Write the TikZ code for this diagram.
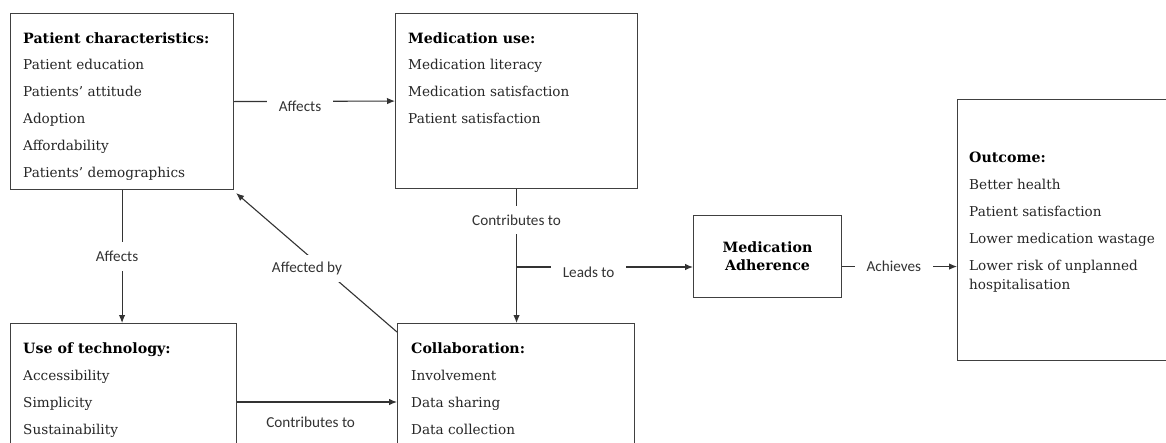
\documentclass[tikz,border=0pt]{standalone}
\usepackage{fontspec}
\setmainfont{DejaVu Serif}
\newfontfamily\lblfont{Carlito}
\usetikzlibrary{arrows.meta,calc}
\begin{document}
\begin{tikzpicture}[x=1pt,y=-1pt,
  box/.style={draw=black!75, line width=1.1pt, inner sep=0pt, anchor=north west},
  body/.style={anchor=base west, inner sep=0pt, font=\fontsize{13.6}{16}\selectfont, text=black!85},
  ttl/.style={anchor=base west, inner sep=0pt, font=\fontsize{14.2}{16}\selectfont\bfseries, text=black},
  lbl/.style={font=\lblfont\fontsize{15.2}{18}\selectfont, text=black!80, fill=white, inner xsep=12pt, inner ysep=9pt},
  ln/.style={draw=black!80, line width=1.1pt},
  arr/.style={ln, -{Latex[length=8pt,width=6.5pt]}}]
\clip (0,0) rectangle (1166,442);
\fill[white] (0,0) rectangle (1166,442);

% boxes
\node[box, minimum width=223pt, minimum height=176pt] (b1) at (10,13) {};
\node[box, minimum width=242pt, minimum height=175pt] (b2) at (395,13) {};
\node[box, minimum width=226pt, minimum height=150pt] (b3) at (10,323) {};
\node[box, minimum width=237pt, minimum height=150pt] (b4) at (397,323) {};
\node[box, minimum width=148pt, minimum height=82pt, align=center,
      font=\fontsize{14.2}{18}\selectfont\bfseries] (b5) at (693,215) {Medication\\Adherence};
\node[box, minimum width=240pt, minimum height=261pt] (b6) at (957,99) {};

% texts
\node[ttl] (b1t) at (23,43) {Patient characteristics:};
\foreach \s [count=\i] in {Patient education, Patients’ attitude, Adoption, Affordability, Patients’ demographics}
  \node[body] (b1l\i) at (23,{43+26.8*\i}) {\s};

\node[ttl] (b2t) at (408,43) {Medication use:};
\foreach \s [count=\i] in {Medication literacy, Medication satisfaction, Patient satisfaction}
  \node[body] (b2l\i) at (408,{43+26.8*\i}) {\s};

\node[ttl] (b3t) at (23,353) {Use of technology:};
\foreach \s [count=\i] in {Accessibility, Simplicity, Sustainability}
  \node[body] (b3l\i) at (23,{353+27*\i}) {\s};

\node[ttl] (b4t) at (411,353) {Collaboration:};
\foreach \s [count=\i] in {Involvement, Data sharing, Data collection}
  \node[body] (b4l\i) at (411,{353+27*\i}) {\s};

\node[ttl] (b6t) at (969,162) {Outcome:};
\foreach \s [count=\i] in {Better health, Patient satisfaction, Lower medication wastage, Lower risk of unplanned}
  \node[body] (b6l\i) at (969,{162+27*\i}) {\s};
\node[body] (b6l5) at (969,289) {hospitalisation};

% connectors
\draw[arr] (b1.east) -- node[lbl, pos=0.41, yshift=-5pt] (la1) {Affects} (b2.west);
\draw[arr] (b1.south) -- node[lbl, xshift=-5pt] (la2) {Affects} (b1.south |- b3.north);
\draw[arr] ([yshift=-9pt]b4.north west) -- node[lbl, pos=0.46, xshift=-16pt, inner ysep=7pt] (la3) {Affected by} ([xshift=2pt,yshift=-3pt]b1.south east);
\draw[arr] (b2.south) -- node[lbl, pos=0.23] (la4) {Contributes to} (b2.south |- b4.north);
\coordinate (j) at (516,267);
\draw[arr] (j) -- node[lbl, pos=0.41, yshift=-5pt] (la5) {Leads to} (j -| b5.west);
\draw[arr] ([yshift=-10pt]b5.east) -- node[lbl, pos=0.45] (la6) {Achieves} ([yshift=-10pt]b5.east -| b6.west);
\draw[arr] ([yshift=-79pt]b3.north east) -- node[lbl, pos=0.46, yshift=-20pt] (la7) {Contributes to} ([yshift=-79pt]b4.north west);
\end{tikzpicture}
\end{document}
